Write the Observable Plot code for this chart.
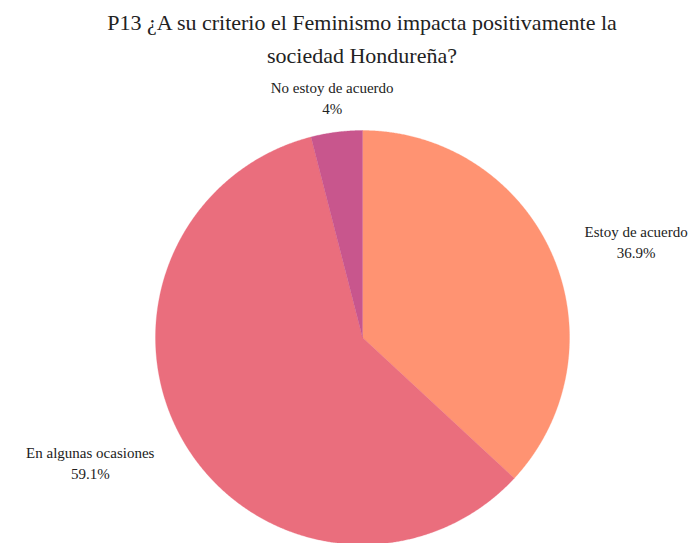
<!DOCTYPE html>
<html><head><meta charset="utf-8">
<script src="https://cdn.jsdelivr.net/npm/d3@7"></script>
<script src="https://cdn.jsdelivr.net/npm/@observablehq/plot@0.6"></script>
<style>
body{margin:0;background:#fff;width:698px;height:543px;overflow:hidden;position:relative;}
#title{position:absolute;left:0;top:6px;width:724px;text-align:center;font-size:22px;line-height:33px;color:#222;}
#chart{position:absolute;left:0;top:80px;}
</style></head>
<body>
<div id="title" style="font-family:'Liberation Serif',serif !important">P13 ¿A su criterio el Feminismo impacta positivamente la<br>sociedad Hondureña?</div>
<div id="chart"></div>
<script>
const categories = ["Estoy de acuerdo", "En algunas ocasiones", "No estoy de acuerdo"];
const percents = [36.9, 59.1, 4.0];
const percentLabels = ["36.9%", "59.1%", "4%"];
const colors = ["#FF9372", "#EA6E7D", "#C8568D"];

const FONT = "'Liberation Serif', serif";
const FS = 15;
const ctx = document.createElement("canvas").getContext("2d");
ctx.font = FS + "px " + FONT;

const total = d3.sum(percents);
let acc = 0;
const slices = categories.map((c, i) => {
  const a0 = acc / total * 2 * Math.PI;
  acc += percents[i];
  const a1 = acc / total * 2 * Math.PI;
  return {cat: c, a0, a1, mid: (a0 + a1) / 2, label: c + "\n" + percentLabels[i],
          w: Math.max(ctx.measureText(c).width, ctx.measureText(percentLabels[i]).width)};
});

const poly = [];
for (const s of slices) {
  poly.push({cat: s.cat, x: 0, y: 0});
  const n = Math.max(2, Math.ceil((s.a1 - s.a0) / 0.005));
  for (let k = 0; k <= n; k++) {
    const a = s.a0 + (s.a1 - s.a0) * k / n;
    poly.push({cat: s.cat, x: Math.sin(a), y: Math.cos(a)});
  }
  poly.push({cat: s.cat, x: 0, y: 0});
}

const R = 207; // px per unit
const lr = 1.17;
const labels = slices.map(s => {
  const sx = Math.sin(s.mid);
  const shift = Math.abs(sx) < 0.3 ? 0 : Math.sign(sx) * (s.w / 2) / R;
  return {x: lr * sx + shift, y: lr * Math.cos(s.mid), label: s.label};
});

const chart = Plot.plot({
  width: 698, height: 463,
  x: {domain: [-1, 1], range: [155, 569], axis: null},
  y: {domain: [-1, 1], range: [464, 50], axis: null},
  color: {domain: categories, range: colors},
  style: {fontFamily: FONT, background: "transparent"},
  marks: [
    Plot.line(poly, {x: "x", y: "y", z: "cat", fill: "cat", stroke: "cat", strokeWidth: 0.3, curve: "linear"}),
    Plot.text(labels, {
      x: "x", y: "y", text: "label", textAnchor: "middle", lineAnchor: "middle",
      fontSize: FS, lineHeight: 1.4, fill: "#222", fontFamily: FONT
    })
  ]
});
chart.querySelectorAll("text, tspan").forEach(t => t.style.setProperty("font-family", FONT, "important"));
document.getElementById("title").style.setProperty("font-family", FONT, "important");
document.getElementById("chart").appendChild(chart);
</script>
</body></html>
